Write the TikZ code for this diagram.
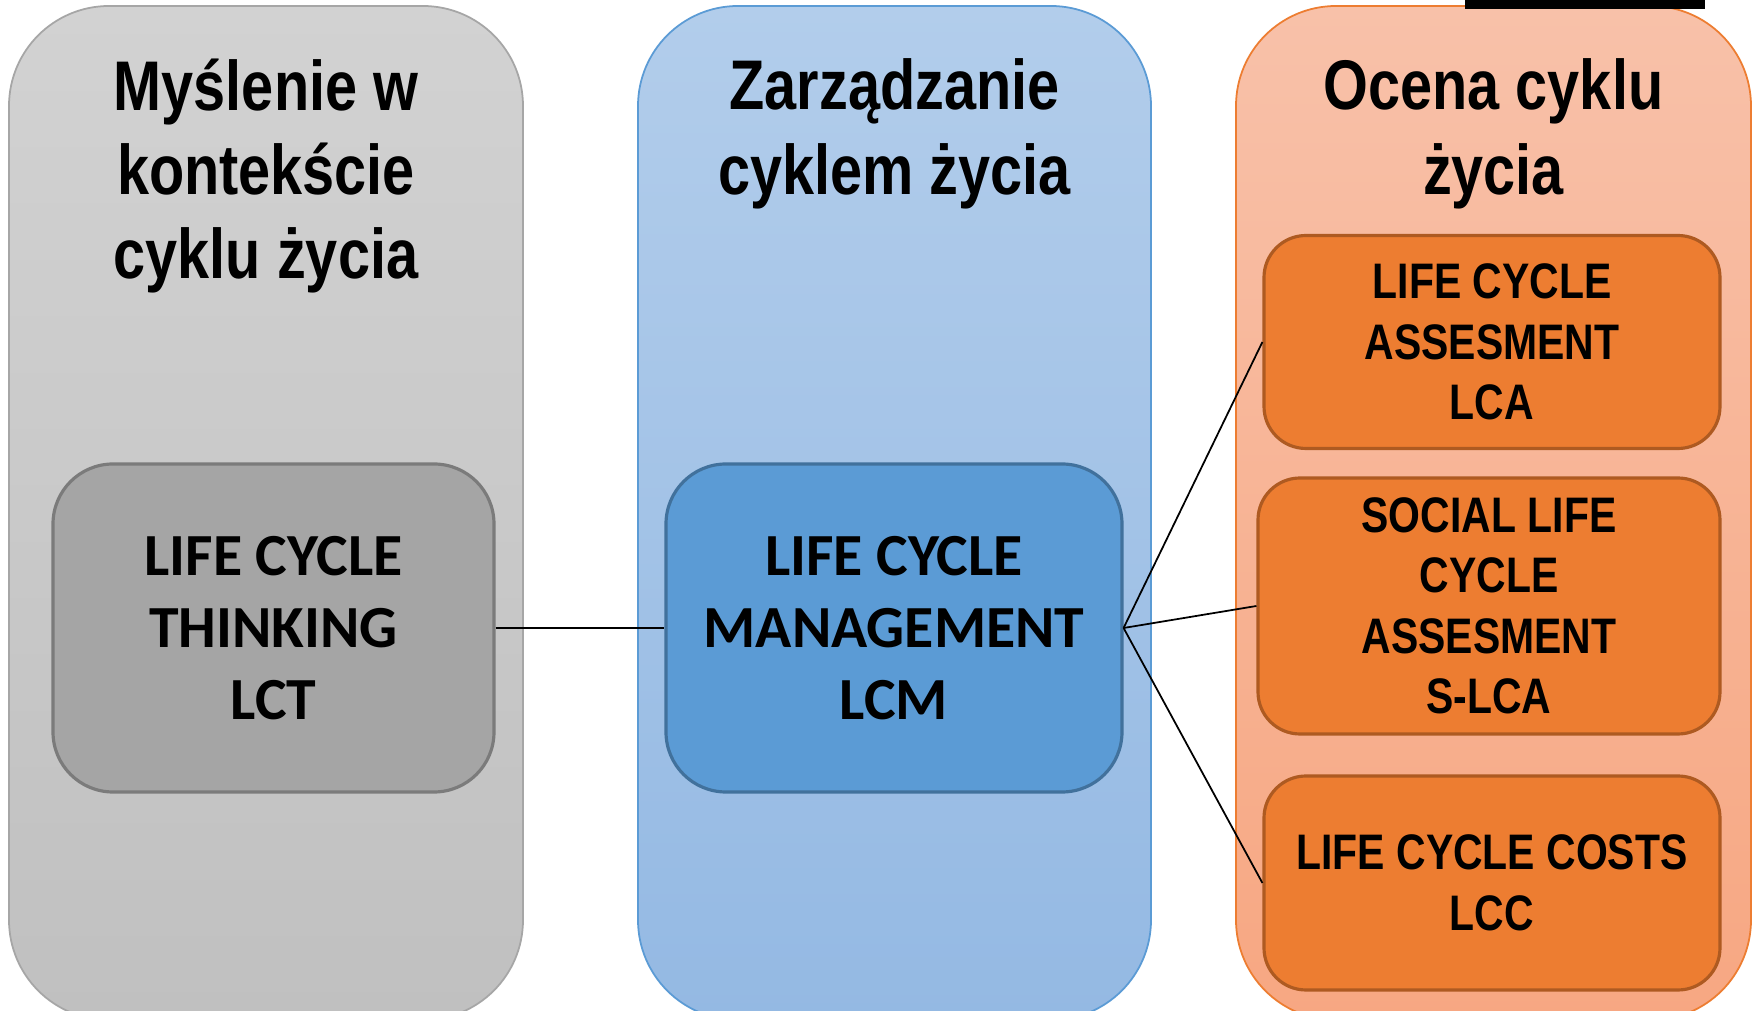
\documentclass[tikz,border=0pt]{standalone}
\usepackage{fontspec}
\setmainfont{Liberation Sans}
\newfontfamily\narrowfont[FakeStretch=0.82]{Liberation Sans}
\newfontfamily\calfont{Carlito}
\usetikzlibrary{positioning}

\definecolor{grayTop}{HTML}{D2D2D2}
\definecolor{grayBot}{HTML}{C0C0C0}
\definecolor{grayLine}{HTML}{A6A6A6}
\definecolor{grayBox}{HTML}{A5A5A5}
\definecolor{grayBoxLine}{HTML}{7B7B7B}
\definecolor{blueTop}{HTML}{B2CDEB}
\definecolor{blueBot}{HTML}{94B9E3}
\definecolor{blueLine}{HTML}{5B9BD5}
\definecolor{blueBox}{HTML}{5B9BD5}
\definecolor{blueBoxLine}{HTML}{41719C}
\definecolor{orangeTop}{HTML}{F8C1A9}
\definecolor{orangeBot}{HTML}{F7A782}
\definecolor{orangeLine}{HTML}{ED7D31}
\definecolor{orangeBox}{HTML}{ED7D31}
\definecolor{orangeBoxLine}{HTML}{AE5A21}

\tikzset{
  column/.style={draw, rounded corners=1cm, minimum width=5.14cm,
    minimum height=10.14cm, line width=0.5pt},
  coltitle/.style={align=center, inner sep=0pt,
    font=\narrowfont\bfseries\fontsize{20}{24}\selectfont},
  lcbox/.style={draw, rounded corners=0.6cm, line width=0.9pt, align=center,
    inner sep=0pt, minimum height=3.28cm,
    font=\calfont\bfseries\fontsize{17}{20.5}\selectfont},
  assessbox/.style={draw=orangeBoxLine, fill=orangeBox, rounded corners=0.42cm,
    line width=0.9pt, align=center, inner sep=0pt, minimum width=4.56cm,
    font=\narrowfont\bfseries\fontsize{14.2}{17.2}\selectfont},
  link/.style={draw, line width=0.5pt}
}

\begin{document}
\begin{tikzpicture}
  % Rahmen
  \useasboundingbox (0,0) rectangle (17.54,-10.11);
  \fill[white] (0,0) rectangle (17.54,-10.11);
  \clip (0,0) rectangle (17.54,-10.11);
  % Spalten
  \node[column, draw=grayLine, top color=grayTop, bottom color=grayBot]
    (colThink) at (2.66,-5.13) {};
  \node[column, draw=blueLine, top color=blueTop, bottom color=blueBot,
    minimum width=5.13cm] (colManage) at (8.945,-5.13) {};
  \node[column, draw=orangeLine, top color=orangeTop, bottom color=orangeBot,
    minimum width=5.15cm] (colAssess) at (14.935,-5.13) {};
  % Balken oben rechts
  \fill[black] (14.65,0) rectangle (17.05,-0.09);
  % Titel
  \node[coltitle] (titleThink) at (2.66,-1.76)
    {Myślenie w\\kontekście\\cyklu życia};
  \node[coltitle] (titleManage) at (8.945,-1.34)
    {Zarządzanie\\cyklem życia};
  \node[coltitle] (titleAssess) at (14.935,-1.34)
    {Ocena cyklu\\życia};
  % Kästen
  \node[lcbox, draw=grayBoxLine, fill=grayBox, minimum width=4.41cm]
    (lct) at (2.735,-6.28) {LIFE CYCLE\\THINKING\\LCT};
  \node[lcbox, draw=blueBoxLine, fill=blueBox, minimum width=4.56cm]
    (lcm) at (8.94,-6.28) {LIFE CYCLE\\MANAGEMENT\\LCM};
  \node[assessbox, minimum height=2.13cm] (lca) at (14.92,-3.42)
    {LIFE CYCLE\\ASSESMENT\\LCA};
  \node[assessbox, minimum width=4.62cm, minimum height=2.56cm]
    (slca) at (14.89,-6.06) {SOCIAL LIFE\\CYCLE\\ASSESMENT\\S-LCA};
  \node[assessbox, minimum height=2.14cm] (lcc) at (14.92,-8.83)
    {LIFE CYCLE COSTS\\LCC};
  % Verbindungen
  \draw[link] (lct.east) -- (lcm.west);
  \draw[link] (lcm.east) -- (lca.west);
  \draw[link] (lcm.east) -- (slca.west);
  \draw[link] (lcm.east) -- (lcc.west);
\end{tikzpicture}
\end{document}
